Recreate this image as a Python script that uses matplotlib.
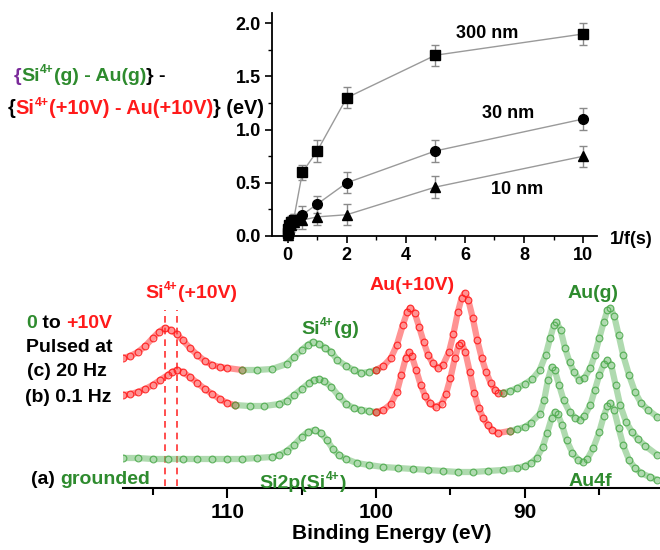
import numpy as np
import matplotlib
matplotlib.use("Agg")
import matplotlib.pyplot as plt
from matplotlib.font_manager import FontProperties
from matplotlib.ticker import MultipleLocator

plt.rcParams['font.family'] = ['Liberation Sans', 'DejaVu Sans']
plt.rcParams['font.weight'] = 'bold'

W, H = 660, 550
GREEN = '#2e8b2e'
MGREEN = '#4daa4d'
RED = '#ff1a1a'
PURPLE = '#7a2a9a'

# ---------------- inset data ----------------
inv_f = [0.01, 0.02, 0.05, 0.1, 0.2, 0.5, 1, 2, 5, 10]
shift_300nm = [0.03, 0.07, 0.10, 0.13, 0.15, 0.60, 0.80, 1.30, 1.70, 1.90]
shift_30nm = [0.02, 0.05, 0.08, 0.12, 0.15, 0.20, 0.30, 0.50, 0.80, 1.10]
shift_10nm = [0.01, 0.04, 0.07, 0.10, 0.13, 0.15, 0.18, 0.20, 0.46, 0.75]
err_300nm = [0.05, 0.05, 0.05, 0.06, 0.06, 0.07, 0.10, 0.10, 0.10, 0.10]
err_30nm = [0.05, 0.05, 0.05, 0.06, 0.06, 0.08, 0.08, 0.10, 0.10, 0.10]
err_10nm = [0.05, 0.05, 0.05, 0.06, 0.06, 0.08, 0.08, 0.10, 0.10, 0.10]
series_labels = ['300 nm', '30 nm', '10 nm']

# ---------------- spectra data (binding energy eV, intensity a.u.) ----------------
E_c = [117.0, 116.5, 116.0, 115.5, 115.0, 114.6, 114.2, 113.8, 113.4, 113.0, 112.5, 112.0, 111.5, 111.0,
       110.5, 110.0, 109.0, 108.0, 107.0, 106.0, 105.5, 105.0, 104.6, 104.25, 103.8, 103.4, 103.0, 102.6,
       102.0, 101.5, 101.0, 100.5, 100.0, 99.5, 99.0, 98.6, 98.2, 97.9, 97.7, 97.4, 97.1, 96.8, 96.5, 96.2,
       95.85, 95.5, 95.1, 94.8, 94.5, 94.25, 94.05, 93.8, 93.5, 93.2, 92.9, 92.6, 92.3, 92.0, 91.8, 91.5,
       91.0, 90.5, 90.0, 89.5, 89.0, 88.6, 88.3, 88.05, 87.88, 87.6, 87.3, 87.0, 86.7, 86.33, 86.0, 85.6,
       85.3, 85.0, 84.7, 84.45, 84.25, 84.0, 83.7, 83.4, 83.0, 82.6, 82.2, 81.7, 81.1]
I_c = [130, 132, 136, 142, 150, 156, 160, 158, 154, 148, 140, 133, 127, 123,
       121, 120, 118, 118, 119, 124, 131, 138, 143, 146, 144, 140, 136, 128,
       122, 118, 115, 116, 118, 122, 130, 143, 163, 176, 180, 175, 161, 146, 133, 125,
       120, 123, 136, 154, 176, 190, 195, 188, 170, 148, 130, 116, 105, 98, 95, 95,
       97, 100, 104, 109, 118, 133, 150, 163, 166, 158, 140, 126, 116, 108, 110, 120,
       133, 150, 166, 178, 180, 172, 153, 133, 113, 96, 85, 78, 71]

E_b = [117.0, 116.5, 116.0, 115.5, 115.0, 114.5, 114.0, 113.7, 113.4, 113.0, 112.5, 112.0, 111.5, 111.0,
       110.5, 110.0, 109.5, 108.5, 107.5, 106.5, 106.0, 105.5, 105.0, 104.5, 104.2, 103.85, 103.5, 103.0,
       102.5, 102.0, 101.5, 101.0, 100.5, 100.0, 99.5, 99.0, 98.6, 98.3, 98.0, 97.8, 97.6, 97.3, 97.0,
       96.7, 96.4, 96.0, 95.6, 95.3, 95.0, 94.7, 94.45, 94.26, 94.0, 93.7, 93.4, 93.1, 92.8, 92.5, 92.2,
       91.8, 91.0, 90.5, 90.0, 89.6, 89.0, 88.7, 88.45, 88.2, 88.0, 87.7, 87.4, 87.0, 86.6, 86.3, 86.0,
       85.6, 85.3, 85.0, 84.7, 84.45, 84.2, 83.9, 83.6, 83.2, 82.8, 82.4, 81.9, 81.1]
I_b = [93, 94, 96, 99, 103, 108, 113, 116, 118, 116, 111, 105, 99, 94,
       89, 85, 83, 82, 82, 84, 87, 93, 99, 105, 108, 109, 107, 101,
       92, 84, 80, 78, 77, 76, 78, 84, 96, 113, 130, 136, 132, 118, 103,
       92, 85, 81, 84, 94, 110, 130, 143, 145, 136, 116, 95, 80, 70, 63, 58,
       55, 57, 59, 61, 65, 74, 88, 108, 121, 118, 103, 88, 76, 70, 68, 72,
       83, 98, 113, 124, 128, 123, 103, 83, 66, 56, 49, 42, 33]

E_a = [117.0, 116.0, 115.0, 114.0, 113.0, 112.0, 111.0, 110.0, 109.0, 108.0, 107.0, 106.5, 106.0, 105.5,
       105.0, 104.6, 104.1, 103.7, 103.3, 102.9, 102.5, 102.0, 101.3, 100.5, 99.5, 98.5, 97.5, 96.5, 95.5,
       94.5, 93.5, 92.5, 91.5, 90.5, 90.0, 89.6, 89.2, 88.8, 88.5, 88.2, 88.0, 87.8, 87.5, 87.2, 86.8,
       86.4, 86.1, 85.8, 85.4, 85.0, 84.7, 84.45, 84.25, 84.0, 83.7, 83.4, 83.0, 82.6, 82.2, 81.6, 81.1]
I_a = [30, 30, 29, 29, 29, 29, 29, 29, 29, 30, 31, 33, 37, 43,
       51, 56, 58, 55, 48, 39, 33, 29, 25, 23, 21, 20, 19, 18, 17,
       16, 16, 17, 18, 20, 22, 25, 30, 41, 55, 70, 76, 74, 63, 48, 35,
       28, 26, 29, 40, 56, 72, 82, 85, 78, 60, 43, 28, 20, 15, 11, 8]

pulsed_ranges = [(117.0, 110.0), (100.0, 91.8)]   # regions recorded under +10 V (red)
si_shift_lines = [114.2, 113.4]
xticks_be = [110, 100, 90]

# ---------------- figure ----------------
fig = plt.figure(figsize=(W / 100, H / 100), dpi=100)


def px_axes(x0, y0, x1, y1):
    return [x0 / W, 1 - y1 / H, (x1 - x0) / W, (y1 - y0) / H]


# ---------- bottom spectra axes ----------
axb = fig.add_axes(px_axes(123, 255, 660, 488))
axb.set_xlim(117.0, 80.92)
axb.set_ylim(0, 233)
for s in ['left', 'right', 'top']:
    axb.spines[s].set_visible(False)
axb.spines['bottom'].set_linewidth(1.5)
axb.set_yticks([])
axb.set_xticks(xticks_be)
axb.xaxis.set_minor_locator(MultipleLocator(5))
axb.tick_params(axis='x', which='major', direction='out', length=7, width=1.5, labelsize=15, pad=4)
axb.tick_params(axis='x', which='minor', direction='out', length=5, width=1.5)
axb.set_xlabel('Binding Energy (eV)', fontsize=15, fontweight='bold', labelpad=1)

BAND_G = '#6dbd6d'
BAND_R = '#ff3a3a'


def seg_plot(E, I, red):
    band = BAND_R if red else BAND_G
    edge = RED if red else MGREEN
    axb.plot(E, I, '-', color=band, lw=4.5, alpha=0.55, zorder=2, solid_capstyle='round')
    axb.plot(E, I, 'o', mfc='none', mec=edge, mew=0.9, ms=4.8, alpha=0.85, zorder=3)


def draw_trace(E, I, with_red):
    E = np.asarray(E, float)
    I = np.asarray(I, float)
    if not with_red:
        seg_plot(E, I, False)
        return
    red = np.zeros(len(E), bool)
    for hi, lo in pulsed_ranges:
        red |= (E <= hi) & (E >= lo)
    idx = 0
    n = len(E)
    while idx < n:
        j = idx
        while j + 1 < n and red[j + 1] == red[idx]:
            j += 1
        end = min(j + 1, n - 1)
        seg_plot(E[idx:end + 1], I[idx:end + 1], red[idx])
        idx = j + 1


draw_trace(E_a, I_a, False)
draw_trace(E_b, I_b, True)
draw_trace(E_c, I_c, True)
for e in si_shift_lines:
    axb.plot([e, e], [2, 178], ls=(0, (4, 3)), color='#ff3030', lw=1.2, zorder=1)

# ---------- inset axes ----------
axi = fig.add_axes(px_axes(272, 12.7, 597, 236))
axi.set_xlim(-0.53, 10.47)
axi.set_ylim(0, 2.1)
for s in ['right', 'top']:
    axi.spines[s].set_visible(False)
for s in ['left', 'bottom']:
    axi.spines[s].set_linewidth(1.3)
axi.set_xticks([0, 2, 4, 6, 8, 10])
axi.set_yticks([0.0, 0.5, 1.0, 1.5, 2.0])
axi.set_yticklabels(['0.0', '0.5', '1.0', '1.5', '2.0'])
axi.xaxis.set_minor_locator(MultipleLocator(1))
axi.yaxis.set_minor_locator(MultipleLocator(0.25))
axi.tick_params(which='major', direction='out', length=5, width=1.2, labelsize=13, pad=3)
axi.tick_params(which='minor', direction='out', length=3, width=1.0)
axi.patch.set_alpha(0)

for ys, es, mk, ms in [(shift_300nm, err_300nm, 's', 6.5), (shift_30nm, err_30nm, 'o', 7),
                       (shift_10nm, err_10nm, '^', 7)]:
    axi.errorbar(inv_f, ys, yerr=es, fmt='none', ecolor='#8a8a8a', elinewidth=1.0, capsize=3,
                 capthick=1.0, zorder=2, clip_on=False)
    axi.plot(inv_f, ys, '-', color='#9a9a9a', lw=1.0, zorder=3, clip_on=False)
    axi.plot(inv_f, ys, mk, color='black', ms=ms, zorder=4, clip_on=False)


def ftext(x, y, s, color='black', size=14, ha='center', va='center'):
    fig.text(x / W, 1 - y / H, s, color=color, fontsize=size, fontweight='bold', ha=ha, va=va)


ftext(487, 33, series_labels[0], size=13)
ftext(508, 113, series_labels[1], size=13)
ftext(517, 189, series_labels[2], size=13)
ftext(631, 239, '1/f(s)', size=13)

# ---------- multi-colour text helper ----------
renderer = fig.canvas.get_renderer()


def text_width(s, size):
    prop = FontProperties(family=['Liberation Sans', 'DejaVu Sans'], weight='bold', size=size)
    w1, _, _ = renderer.get_text_width_height_descent('|' + s + '|', prop, ismath=False)
    w0, _, _ = renderer.get_text_width_height_descent('||', prop, ismath=False)
    return w1 - w0


def rainbow(x, ybase, pieces, size, ha='left'):
    # pieces: (text, color, is_superscript)
    widths = []
    for s, c, sup in pieces:
        fs = size * 0.62 if sup else size
        widths.append(text_width(s, fs))
    total = sum(widths)
    if ha == 'center':
        x = x - total / 2
    for (s, c, sup), w in zip(pieces, widths):
        fs = size * 0.62 if sup else size
        dy = size * 1.389 * 0.42 if sup else 0
        fig.text(x / W, 1 - (ybase - dy) / H, s, color=c, fontsize=fs, fontweight='bold',
                 ha='left', va='baseline')
        x += w


# y-axis label of inset (two lines)
rainbow(14, 81, [('{', PURPLE, False), ('Si', GREEN, False), ('4+', GREEN, True),
                 ('(g) - Au(g)', GREEN, False), ('} -', 'black', False)], 14)
rainbow(8, 114, [('{', 'black', False), ('Si', RED, False), ('4+', RED, True),
                 ('(+10V) - Au(+10V)', RED, False), ('} (eV)', 'black', False)], 14.3)

# spectra annotations
rainbow(191, 298, [('Si', RED, False), ('4+', RED, True), ('(+10V)', RED, False)], 14, ha='center')
ftext(412, 285, 'Au(+10V)', color=RED, size=14)
rainbow(330, 334, [('Si', GREEN, False), ('4+', GREEN, True), ('(g)', GREEN, False)], 14, ha='center')
ftext(593, 293, 'Au(g)', color=GREEN, size=14)
rainbow(303, 488, [('Si2p(Si', GREEN, False), ('4+', GREEN, True), (')', GREEN, False)], 14, ha='center')
ftext(590, 482, 'Au4f', color=GREEN, size=14)

rainbow(69, 328, [('0', GREEN, False), (' to ', 'black', False), ('+10V', RED, False)], 14, ha='center')
ftext(69, 347, 'Pulsed at', size=14)
ftext(67, 372, '(c) 20 Hz', size=14)
ftext(68, 397, '(b) 0.1 Hz', size=14)
rainbow(91, 484, [('(a) ', 'black', False), ('grounded', GREEN, False)], 14, ha='center')

fig.savefig('out.png', dpi=100)
